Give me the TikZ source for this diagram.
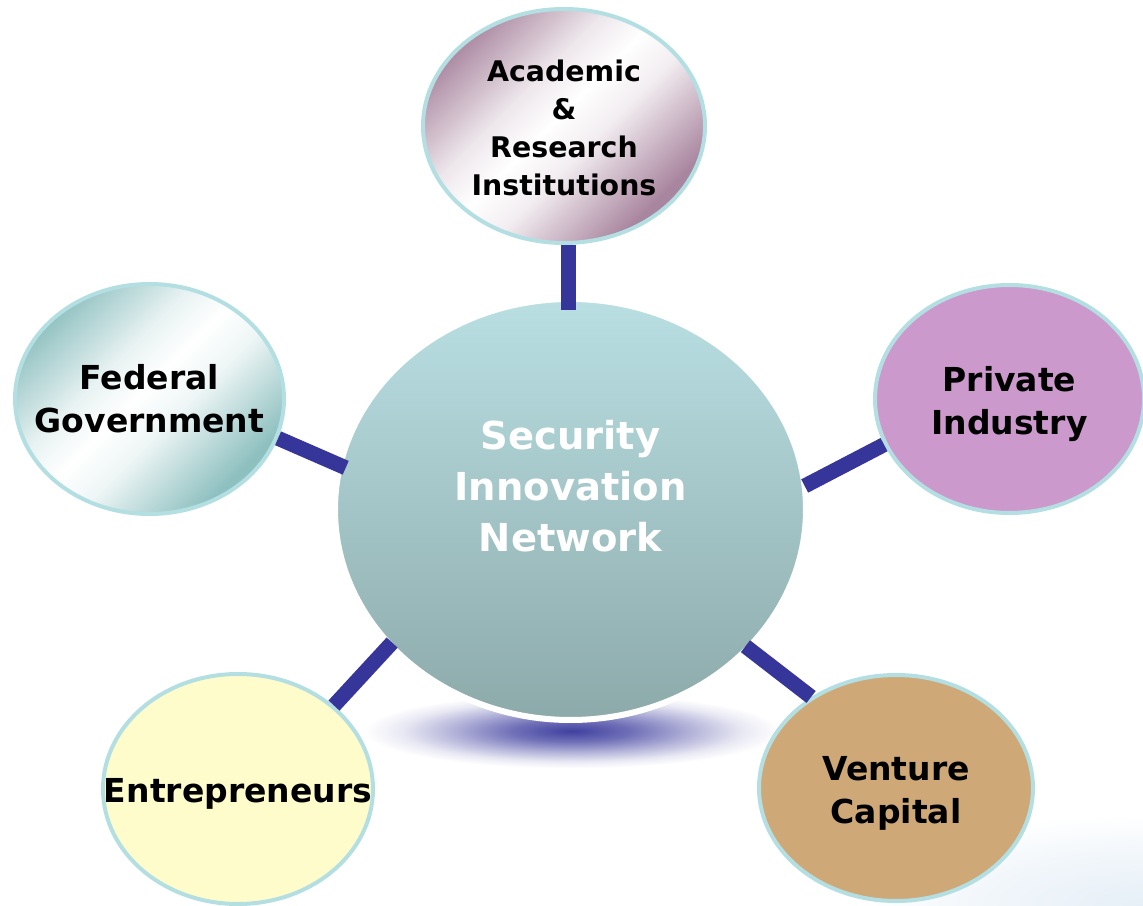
\documentclass[tikz,border=0pt]{standalone}
\usepackage{fontspec}
\setmainfont{DejaVu Sans}
\usetikzlibrary{shapes.geometric}
\definecolor{rimcyan}{HTML}{B3DFE3}
\definecolor{connblue}{HTML}{35359A}
\definecolor{centertop}{HTML}{B9DFE3}
\definecolor{centerbottom}{HTML}{8DAAAA}
\definecolor{acadpurple}{HTML}{A9869F}
\definecolor{fedteal}{HTML}{8FC0C0}
\definecolor{privpink}{HTML}{CC99CC}
\definecolor{entryellow}{HTML}{FFFCCC}
\definecolor{venttan}{HTML}{CFA878}
\definecolor{shadowblue}{HTML}{4040A0}
\definecolor{cornerblue}{HTML}{E6EFF7}
\pgfdeclareradialshading{shadowshade}{\pgfpoint{0bp}{0bp}}{color(0bp)=(shadowblue); color(7bp)=(shadowblue!75!white); color(14bp)=(shadowblue!40!white); color(20bp)=(shadowblue!12!white); color(24.5bp)=(white); color(50bp)=(white)}
\pgfdeclareradialshading{cornershade}{\pgfpoint{0bp}{0bp}}{color(0bp)=(cornerblue); color(12bp)=(cornerblue!60!white); color(24bp)=(white); color(50bp)=(white)}
\pgfdeclareverticalshading{acadshade}{100bp}{color(0bp)=(acadpurple); color(27bp)=(acadpurple); color(44bp)=(acadpurple!15!white); color(52bp)=(white); color(60bp)=(acadpurple!20!white); color(75bp)=(acadpurple!95!white); color(100bp)=(acadpurple)}
\pgfdeclareverticalshading{fedshade}{100bp}{color(0bp)=(fedteal); color(27bp)=(fedteal); color(44bp)=(fedteal!15!white); color(52bp)=(white); color(60bp)=(fedteal!20!white); color(75bp)=(fedteal!95!white); color(100bp)=(fedteal)}
\begin{document}
\begin{tikzpicture}[x=1pt,y=1pt,
  bubble/.style={ellipse, draw=rimcyan, line width=4pt, inner sep=0pt},
  conn/.style={draw=connblue, line width=15pt},
  outertext/.style={font=\bfseries\fontsize{33}{43}\selectfont, align=center, text=black},
  acadtext/.style={font=\bfseries\fontsize{28.4}{38}\selectfont, align=center, text=black},
  centtext/.style={font=\bfseries\fontsize{38.5}{51}\selectfont, align=center, text=white}]
\useasboundingbox (0,0) rectangle (1143,905);
% faint corner tint and shadow
\shade[shading=cornershade] (1143,0) ellipse (300 and 95);
\shade[shading=shadowshade] (572,174) ellipse (212 and 38);
% hub
\node[ellipse, draw=white, line width=6pt, inner sep=0pt, minimum width=471pt, minimum height=421pt,
      top color=centertop, bottom color=centerbottom] (center) at (570.5,395.5) {};
% satellites
\node[bubble, minimum width=282pt, minimum height=234pt, shade, shading=acadshade, shading angle=45] (acad) at (564,779) {};
\node[bubble, minimum width=269pt, minimum height=230pt, shade, shading=fedshade, shading angle=45] (fed) at (149.5,506) {};
\node[bubble, minimum width=269pt, minimum height=228pt, fill=privpink] (priv) at (1009.5,506) {};
\node[bubble, minimum width=270pt, minimum height=230pt, fill=entryellow] (entr) at (238,116) {};
\node[bubble, minimum width=274pt, minimum height=226pt, fill=venttan] (vent) at (896,117) {};
% connectors
\draw[conn, shorten >=-14pt] ([xshift=4pt]acad.south) -- ([xshift=-2.5pt]center.north);
\draw[conn, shorten >=-9pt] (fed.-17) -- (center.169);
\draw[conn, shorten <=-3pt] (center.6) -- (priv.200);
\draw[conn, shorten <=-6pt] (center.217) -- (entr.41);
\draw[conn, shorten <=-6pt] (center.-38) -- (vent.133);
% labels
\node[centtext] (centerlabel) at ([yshift=23pt]center.center) {Security\\Innovation\\Network};
\node[acadtext] (acadlabel) at ([yshift=-2pt]acad.center) {Academic\\\&\\Research\\Institutions};
\node[outertext] (fedlabel) at (fed.center) {Federal\\Government};
\node[outertext] (privlabel) at ([yshift=-5pt]priv.center) {Private\\Industry};
\node[outertext] (entrlabel) at ([yshift=-5pt]entr.center) {Entrepreneurs};
\node[outertext] (ventlabel) at ([yshift=-5pt]vent.center) {Venture\\Capital};
\end{tikzpicture}
\end{document}
